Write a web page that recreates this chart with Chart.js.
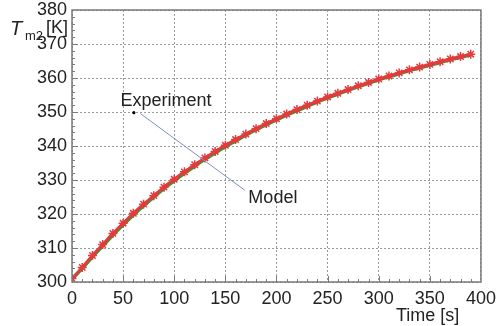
<!DOCTYPE html>
<html lang="en">
<head>
    <meta charset="UTF-8">
    <title>Tm2 temperature - experiment vs model</title>
    <script src="https://cdn.jsdelivr.net/npm/chart.js"></script>
    <style>
        body { margin: 0; background: #fff; }
        #wrap { width: 502px; height: 326px; }
    </style>
</head>
<body>
    <div id="wrap"><canvas id="tempChart" width="502" height="326"></canvas></div>

    <script>
        // time in seconds (one sample every 10 s)
        const timeSec = [0, 10, 20, 30, 40, 50, 60, 70, 80, 90, 100, 110, 120, 130, 140, 150, 160, 170, 180, 190,
                         200, 210, 220, 230, 240, 250, 260, 270, 280, 290, 300, 310, 320, 330, 340, 350, 360, 370, 380, 390];
        // measured temperature [K]
        const experimentK = [301.0, 304.3, 307.8, 311.0, 314.3, 317.3, 320.2, 322.9, 325.4, 327.9,
                             330.2, 332.4, 334.5, 336.5, 338.4, 340.2, 341.9, 343.5, 345.1, 346.6,
                             348.0, 349.4, 350.7, 352.0, 353.2, 354.4, 355.5, 356.6, 357.7, 358.7,
                             359.7, 360.6, 361.5, 362.4, 363.2, 364.0, 364.8, 365.6, 366.3, 367.0];
        // model temperature [K]
        const modelK = [300.7, 303.9, 307.3, 310.5, 313.7, 316.7, 319.6, 322.3, 324.9, 327.4,
                        329.7, 331.9, 334.0, 336.0, 337.9, 339.7, 341.4, 343.1, 344.7, 346.2,
                        347.6, 349.0, 350.3, 351.6, 352.9, 354.1, 355.2, 356.3, 357.4, 358.4,
                        359.4, 360.3, 361.2, 362.1, 362.9, 363.7, 364.5, 365.3, 366.0, 366.7];
        const xTicks = [0, 50, 100, 150, 200, 250, 300, 350, 400];
        const yTicks = [300, 310, 320, 330, 340, 350, 360, 370, 380];

        const FONT = '"Liberation Sans", Arial, sans-serif';
        const TXT = '#222';

        // draws the minor ticks, axis titles and the Experiment / Model callouts
        const decorations = {
            id: 'decorations',
            afterDraw(chart) {
                const ctx = chart.ctx;
                const x = chart.scales.x, y = chart.scales.y;
                const a = chart.chartArea;
                ctx.save();

                // frame
                ctx.strokeStyle = '#7a7a7a';
                ctx.lineWidth = 1.5;
                ctx.strokeRect(a.left, a.top, a.right - a.left, a.bottom - a.top);

                // ticks inside the frame
                ctx.lineWidth = 1;
                for (let t = 10; t < 400; t += 10) {
                    const px = Math.round(x.getPixelForValue(t)) + 0.5;
                    const len = (t % 50 === 0) ? 6 : 3;
                    ctx.beginPath();
                    ctx.moveTo(px, a.bottom);
                    ctx.lineTo(px, a.bottom - len);
                    ctx.stroke();
                }
                for (let v = 302; v < 380; v += 2) {
                    const py = Math.round(y.getPixelForValue(v)) + 0.5;
                    const len = (v % 10 === 0) ? 6 : 3;
                    ctx.beginPath();
                    ctx.moveTo(a.left, py);
                    ctx.lineTo(a.left + len, py);
                    ctx.stroke();
                }

                // callout line + dot
                ctx.strokeStyle = '#7b8fc8';
                ctx.lineWidth = 1;
                ctx.beginPath();
                ctx.moveTo(x.getPixelForValue(67), y.getPixelForValue(349.5));
                ctx.lineTo(x.getPixelForValue(169), y.getPixelForValue(327));
                ctx.stroke();
                ctx.fillStyle = '#000';
                ctx.beginPath();
                ctx.arc(x.getPixelForValue(60.5), y.getPixelForValue(349.8), 1.6, 0, Math.PI * 2);
                ctx.fill();

                ctx.fillStyle = TXT;
                ctx.textBaseline = 'middle';
                ctx.textAlign = 'left';
                ctx.font = '18px ' + FONT;
                ctx.fillText('Experiment', x.getPixelForValue(47.5), y.getPixelForValue(353.3));
                ctx.fillText('Model', x.getPixelForValue(172.5), y.getPixelForValue(324.6));

                // axis titles
                ctx.fillText('Time [s]', a.right - 85, a.bottom + 34);
                ctx.font = 'italic 20px ' + FONT;
                ctx.fillText('T', 10, 29);
                ctx.font = '13px ' + FONT;
                ctx.fillText('m2', 25, 36);
                ctx.font = '18px ' + FONT;
                ctx.fillText('[K]', 46, 28);

                ctx.restore();
            }
        };

        const ctx = document.getElementById('tempChart').getContext('2d');
        new Chart(ctx, {
            type: 'line',
            data: {
                labels: timeSec,
                datasets: [{
                    label: 'Experiment',
                    data: timeSec.map((t, i) => ({ x: t, y: experimentK[i] })),
                    borderColor: '#e33b3b',
                    backgroundColor: '#e33b3b',
                    borderWidth: 3,
                    pointStyle: 'star',
                    pointRadius: 4.5,
                    pointBorderWidth: 1.5,
                    tension: 0.3,
                    order: 1
                }, {
                    label: 'Model',
                    data: timeSec.map((t, i) => ({ x: t, y: modelK[i] })),
                    borderColor: '#2f9a36',
                    borderWidth: 3,
                    pointRadius: 0,
                    tension: 0.3,
                    order: 2
                }]
            },
            options: {
                responsive: false,
                animation: false,
                layout: { padding: { left: 0, right: 17, top: 10, bottom: 0 } },
                plugins: { legend: { display: false }, tooltip: { enabled: false } },
                scales: {
                    x: {
                        type: 'linear',
                        min: 0, max: 400,
                        afterBuildTicks: s => { s.ticks = xTicks.map(v => ({ value: v })); },
                        afterFit: s => { s.height = 44; },
                        grid: { color: '#9a9a9a', drawTicks: false },
                        border: { display: false, dash: [2, 2] },
                        ticks: { padding: 6, color: TXT, font: { size: 18, family: FONT }, maxRotation: 0 }
                    },
                    y: {
                        min: 300, max: 380,
                        afterBuildTicks: s => { s.ticks = yTicks.map(v => ({ value: v })); },
                        afterFit: s => { s.width = 72; s.paddingTop = 0; s.paddingBottom = 0; },
                        grid: { color: '#9a9a9a', drawTicks: false },
                        border: { display: false, dash: [2, 2] },
                        ticks: { padding: 5, color: TXT, font: { size: 18, family: FONT } }
                    }
                }
            },
            plugins: [decorations]
        });
    </script>
</body>
</html>
